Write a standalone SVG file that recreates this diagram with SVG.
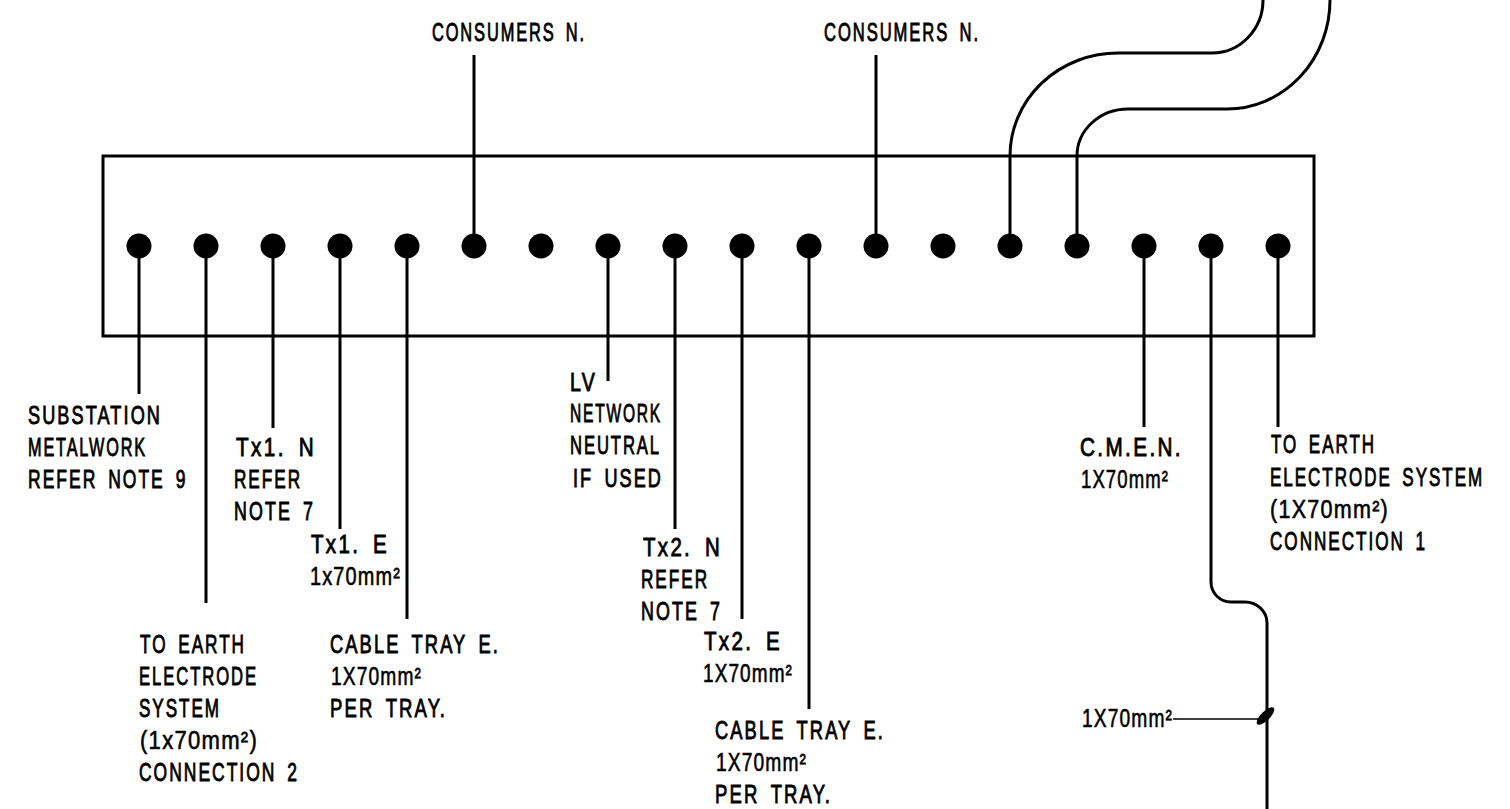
<svg xmlns="http://www.w3.org/2000/svg" width="1510" height="809" viewBox="0 0 1510 809">
<style>
.w{fill:none;stroke:#000;stroke-width:3}
.t{fill:none;stroke:#000;stroke-width:1.5}
.d{fill:#000}
text{font-family:"Liberation Sans",Arial,sans-serif;font-size:26px;letter-spacing:3px;word-spacing:6px;fill:#000;stroke:#000;stroke-width:.9}
text.q{letter-spacing:1.500px;stroke-width:.6}
</style>
<rect width="1510" height="809" fill="#fff"/>
<g id="connectors">
<path class="w" d="M474 55V246M876 55V246"/>
<path class="w" d="M1010 246V156A108 103 0 0 1 1118 53H1212A51 53 0 0 0 1263 0"/>
<path class="w" d="M1077 246V156A51 47 0 0 1 1128 109H1227A103 109 0 0 0 1330 0"/>
<path class="w" d="M139 246V394M206 246V603M273 246V428M340 246V529M407 246V619M608 246V381M675 246V529M742 246V619M809 246V709M1144 246V427M1278 246V427"/>
<path class="w" d="M1211 246V582A20 20 0 0 0 1232 602H1245A22 21 0 0 1 1267 623V809"/>
<path class="t" d="M1173 719H1262"/>
<ellipse class="d" cx="1265.500" cy="716" rx="11.500" ry="4.500" transform="rotate(-45 1265.500 716)"/>
</g>
<g id="terminal-bar">
<rect class="w" x="103" y="156" width="1211" height="180"/>
<circle class="d" cx="139" cy="246" r="12.500"/><circle class="d" cx="206" cy="246" r="12.500"/><circle class="d" cx="273" cy="246" r="12.500"/><circle class="d" cx="340" cy="246" r="12.500"/><circle class="d" cx="407" cy="246" r="12.500"/><circle class="d" cx="474" cy="246" r="12.500"/><circle class="d" cx="541" cy="246" r="12.500"/><circle class="d" cx="608" cy="246" r="12.500"/><circle class="d" cx="675" cy="246" r="12.500"/><circle class="d" cx="742" cy="246" r="12.500"/><circle class="d" cx="809" cy="246" r="12.500"/><circle class="d" cx="876" cy="246" r="12.500"/><circle class="d" cx="943" cy="246" r="12.500"/><circle class="d" cx="1010" cy="246" r="12.500"/><circle class="d" cx="1077" cy="246" r="12.500"/><circle class="d" cx="1144" cy="246" r="12.500"/><circle class="d" cx="1211" cy="246" r="12.500"/><circle class="d" cx="1278" cy="246" r="12.500"/>
</g>
<g id="label-consumers-1"><text x="432" y="41" textLength="154" lengthAdjust="spacingAndGlyphs">CONSUMERS N.</text></g>
<g id="label-consumers-2"><text x="824" y="41" textLength="156" lengthAdjust="spacingAndGlyphs">CONSUMERS N.</text></g>
<g id="label-substation">
<text x="28" y="424" textLength="134" lengthAdjust="spacingAndGlyphs">SUBSTATION</text>
<text x="28" y="456" textLength="119" lengthAdjust="spacingAndGlyphs">METALWORK</text>
<text transform="translate(28 488) scale(.672 1)">REFER NOTE 9</text>
</g>
<g id="label-tx1-n">
<text x="236" y="456" textLength="80" lengthAdjust="spacingAndGlyphs">Tx1. N</text>
<text x="234" y="488" textLength="68" lengthAdjust="spacingAndGlyphs">REFER</text>
<text x="234" y="520" textLength="81" lengthAdjust="spacingAndGlyphs">NOTE 7</text>
</g>
<g id="label-tx1-e">
<text x="311" y="553" textLength="78" lengthAdjust="spacingAndGlyphs">Tx1. E</text>
<text class="q" x="310" y="585" textLength="91" lengthAdjust="spacingAndGlyphs">1x70mm²</text>
</g>
<g id="label-earth-2">
<text x="140" y="653" textLength="106" lengthAdjust="spacingAndGlyphs">TO EARTH</text>
<text x="139" y="685" textLength="119" lengthAdjust="spacingAndGlyphs">ELECTRODE</text>
<text x="139" y="717" textLength="82" lengthAdjust="spacingAndGlyphs">SYSTEM</text>
<text class="q" x="140" y="749" textLength="118" lengthAdjust="spacingAndGlyphs">(1x70mm²)</text>
<text x="139" y="781" textLength="160" lengthAdjust="spacingAndGlyphs">CONNECTION 2</text>
</g>
<g id="label-tray-1">
<text x="330" y="653" textLength="170" lengthAdjust="spacingAndGlyphs">CABLE TRAY E.</text>
<text class="q" x="331" y="685" textLength="91" lengthAdjust="spacingAndGlyphs">1X70mm²</text>
<text x="330" y="717" textLength="117" lengthAdjust="spacingAndGlyphs">PER TRAY.</text>
</g>
<g id="label-lv">
<text x="570" y="391" textLength="27" lengthAdjust="spacingAndGlyphs">LV</text>
<text x="570" y="422" textLength="92" lengthAdjust="spacingAndGlyphs">NETWORK</text>
<text x="570" y="454" textLength="91" lengthAdjust="spacingAndGlyphs">NEUTRAL</text>
<text x="573" y="487" textLength="90" lengthAdjust="spacingAndGlyphs">IF USED</text>
</g>
<g id="label-tx2-n">
<text x="643" y="556" textLength="79" lengthAdjust="spacingAndGlyphs">Tx2. N</text>
<text x="641" y="588" textLength="68" lengthAdjust="spacingAndGlyphs">REFER</text>
<text x="641" y="620" textLength="81" lengthAdjust="spacingAndGlyphs">NOTE 7</text>
</g>
<g id="label-tx2-e">
<text x="704" y="650" textLength="78" lengthAdjust="spacingAndGlyphs">Tx2. E</text>
<text class="q" x="703" y="682" textLength="90" lengthAdjust="spacingAndGlyphs">1X70mm²</text>
</g>
<g id="label-tray-2">
<text x="715" y="739" textLength="170" lengthAdjust="spacingAndGlyphs">CABLE TRAY E.</text>
<text class="q" x="716" y="771" textLength="91" lengthAdjust="spacingAndGlyphs">1X70mm²</text>
<text x="715" y="803" textLength="117" lengthAdjust="spacingAndGlyphs">PER TRAY.</text>
</g>
<g id="label-cmen">
<text x="1080" y="456" textLength="103" lengthAdjust="spacingAndGlyphs">C.M.E.N.</text>
<text class="q" x="1081" y="488" textLength="88" lengthAdjust="spacingAndGlyphs">1X70mm²</text>
</g>
<g id="label-earth-1">
<text x="1271" y="453" textLength="105" lengthAdjust="spacingAndGlyphs">TO EARTH</text>
<text transform="translate(1270 486) scale(.655 1)">ELECTRODE SYSTEM</text>
<text class="q" x="1270" y="518" textLength="119" lengthAdjust="spacingAndGlyphs">(1X70mm²)</text>
<text x="1270" y="550" textLength="157" lengthAdjust="spacingAndGlyphs">CONNECTION 1</text>
</g>
<g id="label-cable"><text class="q" x="1082" y="727" textLength="91" lengthAdjust="spacingAndGlyphs">1X70mm²</text></g>
</svg>
